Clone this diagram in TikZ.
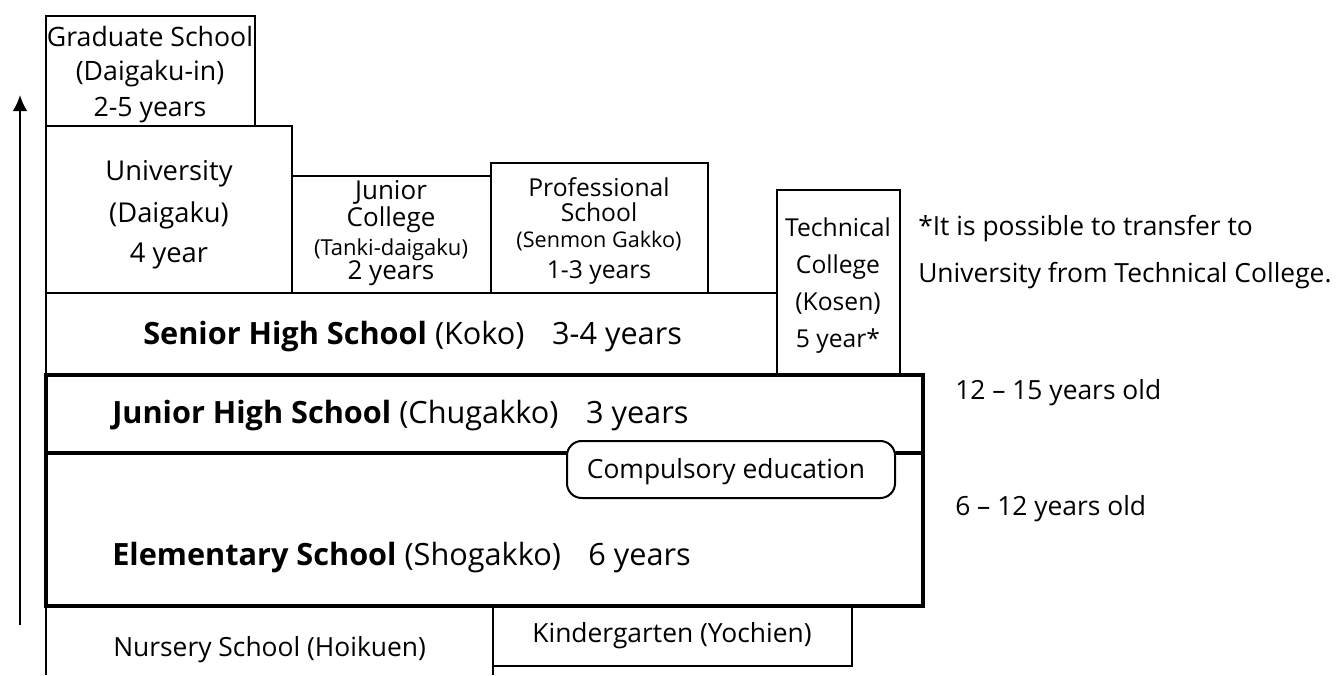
\documentclass[tikz,border=0pt]{standalone}
\usepackage{fontspec}
\setmainfont{Open Sans}
\usetikzlibrary{arrows.meta}
\newcommand\txtmain{\fontsize{18.5}{18.75}\selectfont}
\newcommand\txtrow{\fontsize{23}{25}\selectfont}
\newcommand\txtside{\fontsize{19.8}{22}\selectfont}

\begin{document}
\begin{tikzpicture}[x=0.75pt,y=0.75pt,yscale=-1,xscale=1,
  thinbox/.style={line width=1.5pt},
  thickbox/.style={line width=3.2pt},
  lbl/.style={inner sep=0pt,align=center,font=\txtmain},
  rowlbl/.style={inner sep=0pt,anchor=west,font=\txtrow},
  sidelbl/.style={inner sep=0pt,anchor=west,font=\txtside}]
\useasboundingbox (0,0) rectangle (1338,675);

%Shape: Rectangle
	\draw [thinbox] (46,16) -- (255,16) -- (255,126) -- (46,126) -- cycle ;
%Shape: Rectangle
	\draw [thinbox] (46,126) -- (292,126) -- (292,293) -- (46,293) -- cycle ;
%Shape: Rectangle
	\draw [thinbox] (292,176) -- (491,176) -- (491,293) -- (292,293) -- cycle ;
%Shape: Rectangle
	\draw [thinbox] (491,163) -- (708,163) -- (708,293) -- (491,293) -- cycle ;
%Shape: Rectangle
	\draw [thinbox] (46,293) -- (777,293) -- (777,375) -- (46,375) -- cycle ;
%Shape: Rectangle
	\draw [thinbox] (777,190) -- (900,190) -- (900,375) -- (777,375) -- cycle ;
%Shape: Rectangle
	\draw [thickbox] (46,375) -- (923,375) -- (923,453) -- (46,453) -- cycle ;
%Shape: Rectangle
	\draw [thickbox] (46,453) -- (923,453) -- (923,606) -- (46,606) -- cycle ;
%Straight Lines
	\draw [thinbox] (46,607) -- (46,675) ;
	\draw [thinbox] (493,607) -- (493,675) ;
	\draw [thinbox] (493,666) -- (852,666) -- (852,607) ;
%Rounded Rect
	\draw [thinbox,fill=white,rounded corners=11] (567,441) -- (895,441) -- (895,498) -- (567,498) -- cycle ;
%Arrow
	\coordinate (agefoot) at (20,625) ;
	\coordinate (agetip) at (20,95) ;
	\draw [thinbox,-{Latex[length=12pt,width=11pt]}] (agefoot) -- (agetip) ;

% Text Node
	\node (grad) [lbl,font=\fontsize{20}{18.75}\selectfont] at (150,75) {Graduate School\\[6.75pt](Daigaku-in)\\[6.75pt]2-5 years};
% Text Node
	\node (univ) [lbl,font=\fontsize{20.5}{18.75}\selectfont] at (169,215) {University\\[9.5pt](Daigaku)\\[9.5pt]4 year};
% Text Node
	\node (junc) [lbl,font=\fontsize{19.5}{18.75}\selectfont] at (391,233) {Junior\\[1.5pt]College\\[3pt]{\fontsize{16.5}{18.75}\selectfont (Tanki-daigaku)}\\[-0.75pt]2 years};
% Text Node
	\node (prof) [lbl] at (599,231) {Professional\\School\\[1pt]{\fontsize{16.2}{18.75}\selectfont (Senmon Gakko)}\\[4pt]1-3 years};
% Text Node
	\node (tech) [lbl] at (838,286) {Technical\\[9pt]College\\[9pt](Kosen)\\[9pt]5 year*};
% Text Node
	\node (senior) [rowlbl] at (143,337) {\textbf{Senior High School} (Koko)\hspace{0.9em}3-4 years};
% Text Node
	\node (junior) [rowlbl] at (112,416) {\textbf{Junior High School} (Chugakko)\hspace{0.9em}3 years};
% Text Node
	\node (elem) [rowlbl] at (112,558) {\textbf{Elementary School} (Shogakko)\hspace{0.9em}6 years};
% Text Node
	\node (compul) [lbl,font=\txtside] at (726,472) {Compulsory education};
% Text Node
	\node (nursery) [sidelbl] at (113,650) {Nursery School (Hoikuen)};
% Text Node
	\node (kinder) [lbl,font=\txtside] at (672,636) {Kindergarten (Yochien)};
% Text Node
	\node (note) [sidelbl,align=left] at (918,252) {*It is possible to transfer to\\[12.75pt]University from Technical College.};
% Text Node
	\node (jhage) [sidelbl] at (955,393) {12 -- 15 years old};
% Text Node
	\node (esage) [sidelbl] at (955,509) {6 -- 12 years old};

\end{tikzpicture}
\end{document}
